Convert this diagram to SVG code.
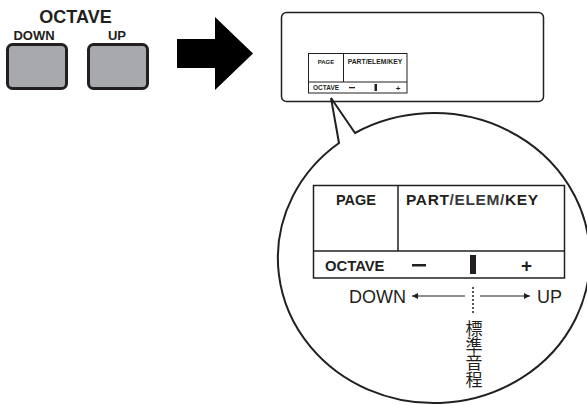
<svg xmlns="http://www.w3.org/2000/svg" width="587" height="405" viewBox="0 0 587 405">
<style>
.b{font-family:"Liberation Sans",Arial,sans-serif;font-weight:bold;fill:#231f20}
.n{font-family:"Liberation Sans",Arial,sans-serif;fill:#231f20}
.ln{stroke:#231f20;fill:none}
</style>
<defs>
<marker id="ah" viewBox="0 0 10 10" refX="10" refY="5" markerWidth="9" markerHeight="6" markerUnits="userSpaceOnUse" orient="auto">
<path d="M0,0 L10,5 L0,10 Z" fill="#231f20"/>
</marker>
</defs>
<rect width="587" height="405" fill="#fff"/>
<g id="octave-buttons">
<text class="b" x="75.5" y="23" font-size="18" text-anchor="middle">OCTAVE</text>
<text class="b" x="34" y="40" font-size="13" text-anchor="middle">DOWN</text>
<text class="b" x="117" y="40" font-size="13" text-anchor="middle">UP</text>
<rect x="7.5" y="44.5" width="59" height="44" rx="5" fill="#a7a9ac" stroke="#231f20" stroke-width="3"/>
<rect x="88.5" y="44.5" width="59" height="44" rx="5" fill="#a7a9ac" stroke="#231f20" stroke-width="3"/>
</g>
<g id="big-arrow">
<polygon points="177,39 215,39 215,17 253,53.5 215,90 215,68 177,68" fill="#000"/>
</g>
<g id="lcd-panel">
<rect x="281.5" y="12.5" width="262" height="89" rx="5" fill="#fff" stroke="#231f20" stroke-width="1.5"/>
<rect x="308.5" y="53.5" width="98.5" height="39.5" fill="#fff" stroke="#231f20" stroke-width="1"/>
<line class="ln" x1="308.5" y1="82" x2="407" y2="82" stroke-width="1"/>
<line class="ln" x1="343.5" y1="53.5" x2="343.5" y2="82" stroke-width="1"/>
<text class="b" x="326" y="63.5" font-size="6" text-anchor="middle">PAGE</text>
<text class="b" x="375" y="63.5" font-size="6.8" text-anchor="middle">PART/ELEM/KEY</text>
<text class="b" x="313" y="90" font-size="6.5">OCTAVE</text>
<rect x="349" y="87" width="6" height="1.3" fill="#231f20"/>
<rect x="374.5" y="84" width="2.5" height="7" fill="#231f20"/>
<text class="b" x="398" y="90.5" font-size="8" text-anchor="middle">+</text>
</g>
<g id="magnifier">
<path d="M339,143 L331,98 L355,133 A156,145 0 1 1 339,143 Z" fill="#fff" stroke="#231f20" stroke-width="2" stroke-linejoin="miter"/>
</g>
<g id="lcd-zoom">
<rect x="313.5" y="185.5" width="251" height="92.5" fill="#fff" stroke="#231f20" stroke-width="1.5"/>
<line class="ln" x1="313.5" y1="251" x2="564.5" y2="251" stroke-width="1.5"/>
<line class="ln" x1="398" y1="185.5" x2="398" y2="251" stroke-width="1.5"/>
<text class="b" x="356" y="205" font-size="14.5" text-anchor="middle">PAGE</text>
<text class="b" x="406" y="205" font-size="15.5" textLength="132">PART<tspan fill="#3a3a3a">/ELEM/</tspan>KEY</text>
<text class="b" x="325" y="271" font-size="14.8">OCTAVE</text>
<rect x="412" y="264" width="14" height="2.5" fill="#231f20"/>
<rect x="470" y="255" width="6" height="19" fill="#231f20"/>
<text class="b" x="526.5" y="271.5" font-size="19" text-anchor="middle">+</text>
</g>
<g id="octave-scale">
<text class="n" x="349" y="303" font-size="18">DOWN</text>
<text class="n" x="537" y="303" font-size="18">UP</text>
<text class="n" x="472" y="320" font-size="17" style="font-family:'Liberation Sans','Noto Sans CJK JP',sans-serif;writing-mode:vertical-rl">標準音程</text>
</g>
<g id="connectors">
<line class="ln" x1="465" y1="296" x2="412" y2="296" stroke-width="1.2" marker-end="url(#ah)"/>
<line class="ln" x1="480" y1="296" x2="530" y2="296" stroke-width="1.2" marker-end="url(#ah)"/>
<line class="ln" x1="473" y1="287" x2="473" y2="313" stroke-width="1.5" stroke-dasharray="2,2"/>
</g>
</svg>
